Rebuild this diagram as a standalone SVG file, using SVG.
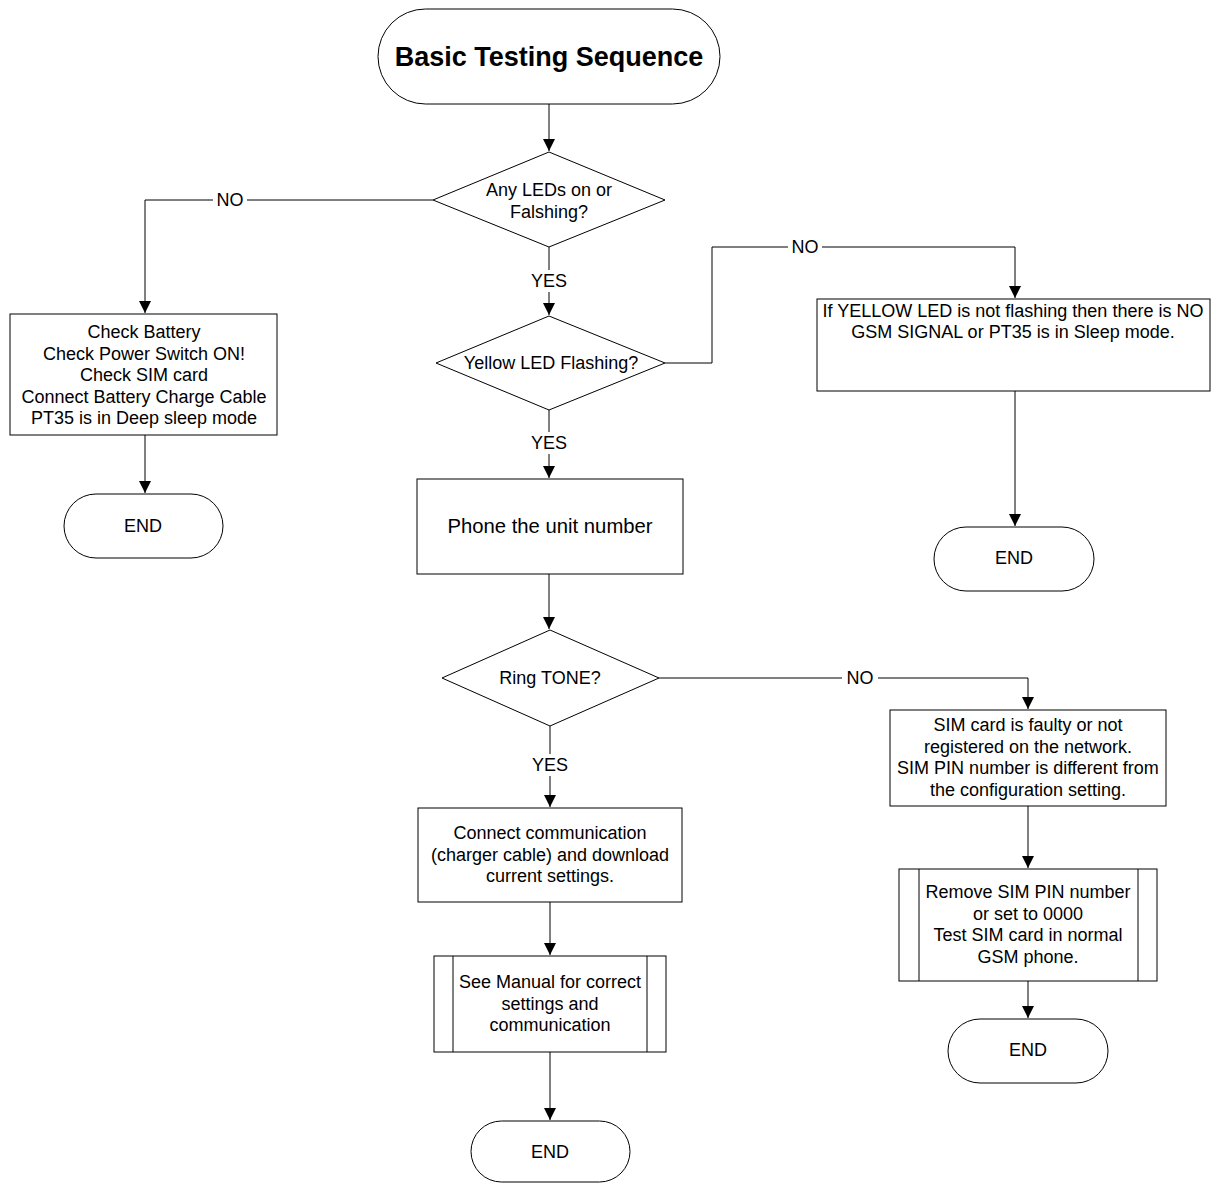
<svg xmlns="http://www.w3.org/2000/svg" width="1212" height="1184" viewBox="0 0 1212 1184">
<defs>
<marker id="arr" markerWidth="14" markerHeight="14" refX="12" refY="7" orient="auto" markerUnits="userSpaceOnUse">
<path d="M0,1 L12,7 L0,13 Z" fill="#000"/>
</marker>
<style>
.s{fill:#fff;stroke:#000;stroke-width:1}
.c{fill:none;stroke:#000;stroke-width:1}
.t{font-family:"Liberation Sans",Arial,sans-serif;font-size:18px;fill:#000;text-anchor:middle;dominant-baseline:central}
.lbl{font-family:"Liberation Sans",Arial,sans-serif;font-size:18px;fill:#000;text-anchor:middle;dominant-baseline:central}
.bg{fill:#fff}
</style>
</defs>
<rect width="1212" height="1184" fill="#fff"/>

<g id="connectors">
<path class="c" d="M549,104 V151" marker-end="url(#arr)"/>
<path class="c" d="M433,200 H145 V313" marker-end="url(#arr)"/>
<path class="c" d="M549,247 V315" marker-end="url(#arr)"/>
<path class="c" d="M665,363 H712 V247 H1015 V298" marker-end="url(#arr)"/>
<path class="c" d="M1015,391 V526" marker-end="url(#arr)"/>
<path class="c" d="M145,435 V493" marker-end="url(#arr)"/>
<path class="c" d="M549,410 V478" marker-end="url(#arr)"/>
<path class="c" d="M549,574 V629" marker-end="url(#arr)"/>
<path class="c" d="M659,678 H1028 V709" marker-end="url(#arr)"/>
<path class="c" d="M1028,806 V868" marker-end="url(#arr)"/>
<path class="c" d="M1028,981 V1018" marker-end="url(#arr)"/>
<path class="c" d="M550,726 V807" marker-end="url(#arr)"/>
<path class="c" d="M550,902 V955" marker-end="url(#arr)"/>
<path class="c" d="M550,1052 V1120" marker-end="url(#arr)"/>
<rect class="bg" x="213" y="189" width="34" height="22"/>
<text class="lbl" x="230" y="200">NO</text>
<rect class="bg" x="788" y="236" width="34" height="22"/>
<text class="lbl" x="805" y="247">NO</text>
<rect class="bg" x="842" y="667" width="36" height="22"/>
<text class="lbl" x="860" y="678">NO</text>
<rect class="bg" x="528" y="270" width="42" height="22"/>
<text class="lbl" x="549" y="281">YES</text>
<rect class="bg" x="528" y="432" width="42" height="22"/>
<text class="lbl" x="549" y="443">YES</text>
<rect class="bg" x="529" y="754" width="42" height="22"/>
<text class="lbl" x="550" y="765">YES</text>
</g>

<g id="start">
<rect class="s" x="378" y="9" width="342" height="95" rx="47.5"/>
<text class="t" x="549" y="57" style="font-size:27px;font-weight:bold">Basic Testing Sequence</text>
</g>

<g id="d_any_leds">
<polygon class="s" points="549,152 665,200 549,247 433,200"/>
<text class="t" x="549" y="190">Any LEDs on or</text>
<text class="t" x="549" y="212">Falshing?</text>
</g>

<g id="box_check">
<rect class="s" x="10" y="314" width="267" height="121"/>
<text class="t" x="144" y="332">Check Battery</text>
<text class="t" x="144" y="353.5">Check Power Switch ON!</text>
<text class="t" x="144" y="375">Check SIM card</text>
<text class="t" x="144" y="396.5">Connect Battery Charge Cable</text>
<text class="t" x="144" y="418">PT35 is in Deep sleep mode</text>
</g>

<g id="end1">
<rect class="s" x="64" y="494" width="159" height="64" rx="32"/>
<text class="t" x="143" y="526">END</text>
</g>

<g id="d_yellow">
<polygon class="s" points="549,316 665,363 549,410 436,363"/>
<text class="t" x="551" y="363">Yellow LED Flashing?</text>
</g>

<g id="box_nosignal">
<rect class="s" x="817" y="299" width="393" height="92"/>
<text class="t" x="1013" y="311">If YELLOW LED is not flashing then there is NO</text>
<text class="t" x="1013" y="332">GSM SIGNAL or PT35 is in Sleep mode.</text>
</g>

<g id="end2">
<rect class="s" x="934" y="527" width="160" height="64" rx="32"/>
<text class="t" x="1014" y="558">END</text>
</g>

<g id="box_phone">
<rect class="s" x="417" y="479" width="266" height="95"/>
<text class="t" x="550" y="526" style="font-size:20.3px">Phone the unit number</text>
</g>

<g id="d_ring">
<polygon class="s" points="550,630 659,678 550,726 442,678"/>
<text class="t" x="550" y="678">Ring TONE?</text>
</g>

<g id="box_sim">
<rect class="s" x="890" y="710" width="276" height="96"/>
<text class="t" x="1028" y="725">SIM card is faulty or not</text>
<text class="t" x="1028" y="746.5">registered on the network.</text>
<text class="t" x="1028" y="768">SIM PIN number is different from</text>
<text class="t" x="1028" y="789.5">the configuration setting.</text>
</g>

<g id="sub_sim">
<rect class="s" x="899" y="869" width="258" height="112"/>
<path class="c" d="M919,869 V981 M1138,869 V981"/>
<text class="t" x="1028" y="892">Remove SIM PIN number</text>
<text class="t" x="1028" y="914">or set to 0000</text>
<text class="t" x="1028" y="935">Test SIM card in normal</text>
<text class="t" x="1028" y="957">GSM phone.</text>
</g>

<g id="end3">
<rect class="s" x="948" y="1019" width="160" height="64" rx="32"/>
<text class="t" x="1028" y="1050">END</text>
</g>

<g id="box_connect">
<rect class="s" x="418" y="808" width="264" height="94"/>
<text class="t" x="550" y="833">Connect communication</text>
<text class="t" x="550" y="855">(charger cable) and download</text>
<text class="t" x="550" y="876">current settings.</text>
</g>

<g id="sub_manual">
<rect class="s" x="434" y="956" width="232" height="96"/>
<path class="c" d="M453,956 V1052 M647,956 V1052"/>
<text class="t" x="550" y="982">See Manual for correct</text>
<text class="t" x="550" y="1004">settings and</text>
<text class="t" x="550" y="1025">communication</text>
</g>

<g id="end4">
<rect class="s" x="471" y="1121" width="159" height="61" rx="30.5"/>
<text class="t" x="550" y="1152">END</text>
</g>
</svg>
